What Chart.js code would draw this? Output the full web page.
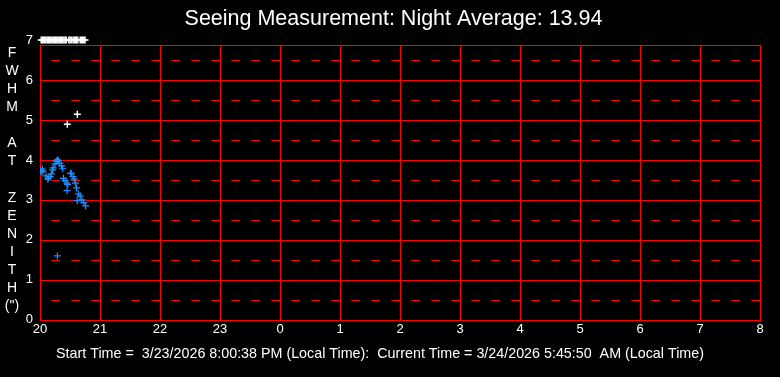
<!DOCTYPE html>
<html lang="en">
<head>
  <meta charset="UTF-8" />
  <title>Seeing Measurement</title>
  <script src="https://cdn.jsdelivr.net/npm/chart.js"></script>
  <style>
    html, body { margin: 0; padding: 0; background: #000; }
    #wrap { width: 780px; height: 377px; }
  </style>
</head>
<body>
  <div id="wrap"><canvas id="seeingChart" width="780" height="377"></canvas></div>

  <script>
    // hours since 20:00 local time, FWHM in arcsec
    const startHour = 20;
    const hourTicks = [0, 1, 2, 3, 4, 5, 6, 7, 8, 9, 10, 11, 12];
    const fwhmTicks = [0, 1, 2, 3, 4, 5, 6];
    const halfLines = [0.5, 1.5, 2.5, 3.5, 4.5, 5.5, 6.5];
    const topTickLabel = 7;
    const yAxisLetters = ['F', 'W', 'H', 'M', '', 'A', 'T', '', 'Z', 'E', 'N', 'I', 'T', 'H', '(")'];

    const seeingX = [0.01, 0.04, 0.05, 0.02, 0.10, 0.13, 0.14, 0.17, 0.19, 0.21, 0.22, 0.25, 0.27, 0.29,
                     0.31, 0.33, 0.36, 0.38, 0.39, 0.42, 0.45, 0.46, 0.45, 0.51, 0.52, 0.55, 0.57, 0.59,
                     0.61, 0.64, 0.67, 0.62, 0.70, 0.73, 0.76, 0.29];
    const seeingY = [3.73, 3.77, 3.72, 3.70, 3.60, 3.52, 3.55, 3.58, 3.65, 3.75, 3.80, 3.90, 3.97, 4.00,
                     3.98, 3.92, 3.85, 3.78, 3.54, 3.48, 3.42, 3.38, 3.23, 3.67, 3.66, 3.58, 3.52, 3.42,
                     3.30, 3.15, 3.10, 2.98, 3.00, 2.93, 2.85, 1.60];

    const outlierX = [0.02, 0.04, 0.06, 0.08, 0.10, 0.12, 0.14, 0.16, 0.18, 0.20, 0.22, 0.24, 0.26, 0.28,
                      0.30, 0.32, 0.34, 0.36, 0.38, 0.40, 0.42, 0.44, 0.48, 0.50, 0.52, 0.55, 0.57,
                      0.59, 0.61, 0.63, 0.67, 0.69, 0.71, 0.73, 0.75, 0.455, 0.622];
    const outlierY = [7, 7, 7, 7, 7, 7, 7, 7, 7, 7, 7, 7, 7, 7,
                      7, 7, 7, 7, 7, 7, 7, 7, 7, 7, 7, 7, 7,
                      7, 7, 7, 7, 7, 7, 7, 7, 4.89, 5.14];

    const titleText = 'Seeing Measurement: Night Average: 13.94';
    const footText = 'Start Time =  3/23/2026 8:00:38 PM (Local Time):  Current Time = 3/24/2026 5:45:50  AM (Local Time)';

    const toPoints = (xs, ys) => xs.map((x, i) => ({ x: x, y: ys[i] }));

    // horizontal grid (solid + dashed), frame, title, top tick label and the stacked y-axis title
    const decorPlugin = {
      id: 'decor',
      beforeDatasetsDraw(chart) {
        const ctx = chart.ctx;
        const a = chart.chartArea;
        const ys = chart.scales.y;
        const line = v => {
          const py = Math.round(ys.getPixelForValue(v)) + 0.5;
          ctx.beginPath();
          ctx.moveTo(a.left, py);
          ctx.lineTo(a.right, py);
          ctx.stroke();
        };
        ctx.save();
        ctx.strokeStyle = '#ff0000';
        ctx.lineWidth = 1;
        fwhmTicks.forEach(line);
        ctx.setLineDash([9, 11]);
        ctx.lineDashOffset = -11;
        halfLines.forEach(line);
        ctx.setLineDash([]);
        ctx.strokeRect(Math.round(a.left) + 0.5, Math.round(a.top) + 0.5,
                       Math.round(a.right - a.left), Math.round(a.bottom - a.top));
        ctx.restore();
      },
      afterDraw(chart) {
        const ctx = chart.ctx;
        const a = chart.chartArea;
        const ys = chart.scales.y;
        ctx.save();
        ctx.fillStyle = '#ffffff';
        ctx.textBaseline = 'middle';
        ctx.textAlign = 'center';
        ctx.font = '21.5px "Liberation Sans", Arial, sans-serif';
        ctx.fillText(titleText, 393.5, 19);
        ctx.font = '13px "Liberation Sans", Arial, sans-serif';
        ctx.textAlign = 'right';
        ctx.fillText(String(topTickLabel), a.left - 7, ys.getPixelForValue(topTickLabel));
        ctx.font = '14px "Liberation Sans", Arial, sans-serif';
        ctx.textAlign = 'center';
        yAxisLetters.forEach((ch, i) => {
          ctx.fillText(ch, 12, 53 + i * 18.1);
        });
        ctx.restore();
      }
    };

    new Chart(document.getElementById('seeingChart'), {
      type: 'scatter',
      data: {
        datasets: [
          {
            label: 'Seeing',
            data: toPoints(seeingX, seeingY),
            pointStyle: 'cross',
            pointRadius: 3.5,
            borderWidth: 1.2,
            borderColor: '#1e90ff',
            backgroundColor: '#1e90ff'
          },
          {
            label: 'Rejected',
            data: toPoints(outlierX, outlierY),
            pointStyle: 'cross',
            pointRadius: 3.5,
            borderWidth: 1.5,
            borderColor: '#ffffff',
            backgroundColor: '#ffffff',
            clip: 10
          }
        ]
      },
      options: {
        responsive: false,
        animation: false,
        layout: { padding: { left: 0, right: 20, top: 45, bottom: 0 } },
        plugins: {
          legend: { display: false },
          tooltip: { enabled: false },
          title: { display: false },
          subtitle: {
            display: true,
            position: 'bottom',
            text: footText,
            color: '#ffffff',
            font: { family: '"Liberation Sans Narrow", "Liberation Sans", Arial, sans-serif', size: 14.3 },
            padding: { top: 9, bottom: 14 }
          }
        },
        scales: {
          x: {
            type: 'linear',
            min: 0,
            max: 12,
            afterBuildTicks: s => { s.ticks = hourTicks.map(v => ({ value: v })); },
            afterFit: s => { s.height = 17; },
            ticks: {
              color: '#ffffff',
              padding: 2,
              font: { family: '"Liberation Sans", Arial, sans-serif', size: 13 },
              callback: v => String((startHour + v) % 24)
            },
            grid: { color: '#ff0000', drawTicks: false, lineWidth: 1 },
            border: { display: false }
          },
          y: {
            type: 'linear',
            min: 0,
            max: 6.875,
            afterBuildTicks: s => { s.ticks = fwhmTicks.map(v => ({ value: v })); },
            afterFit: s => { s.width = 40; },
            ticks: {
              color: '#ffffff',
              padding: 7,
              font: { family: '"Liberation Sans", Arial, sans-serif', size: 13 }
            },
            grid: { display: true, drawOnChartArea: false, drawTicks: false },
            border: { display: false }
          }
        }
      },
      plugins: [decorPlugin]
    });
  </script>
</body>
</html>
